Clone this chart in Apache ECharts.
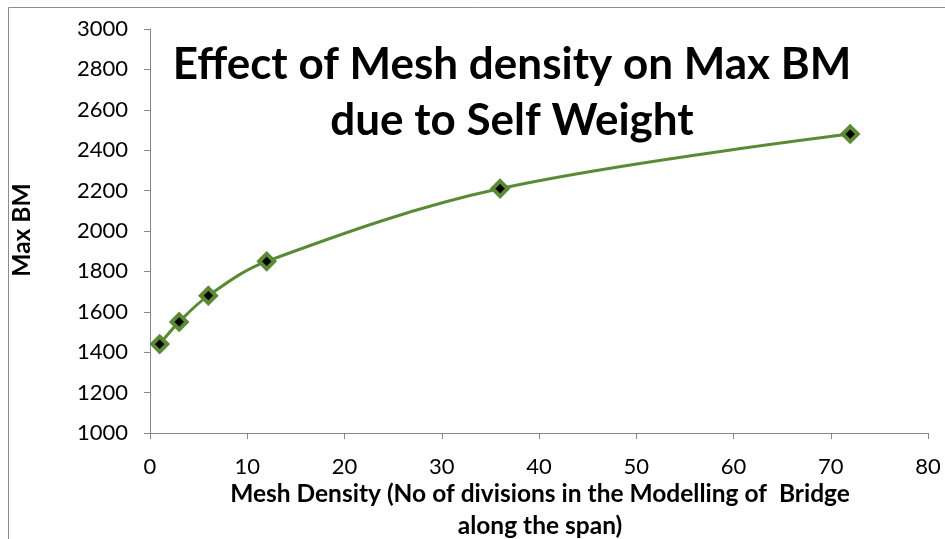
<!DOCTYPE html>
<html>
<head>
<meta charset="utf-8">
<script src="https://cdn.jsdelivr.net/npm/echarts@6/dist/echarts.min.js"></script>
<style>
  html, body { margin: 0; padding: 0; background: #fff; }
  #chart { width: 945px; height: 539px; }
</style>
</head>
<body>
<div id="chart"></div>
<script>
// mesh density (divisions) vs max bending moment
const divisions = [1, 3, 6, 12, 36, 72];
const maxBM = [1440, 1550, 1680, 1850, 2210, 2480];

const chart = echarts.init(document.getElementById('chart'));
const font = 'Lato';
const axisGray = '#868686';
const green = '#5a8a35';

const option = {
  animation: false,
  textStyle: { fontFamily: font },
  grid: { left: 150, right: 17, top: 29, bottom: 106 },
  graphic: [
    {
      type: 'rect',
      shape: { x: 8.5, y: 7.5, width: 960, height: 560 },
      style: { fill: 'none', stroke: '#8c8c8c', lineWidth: 1 }
    },
    {
      type: 'text',
      x: 512, y: 37,
      style: {
        text: 'Effect of Mesh density on Max BM\ndue to Self Weight',
        fontFamily: font, fontWeight: 'bold', fontSize: 44,
        fill: '#000',
        align: 'center',
        verticalAlign: 'top',
        lineHeight: 56
      }
    },
    {
      type: 'text',
      x: 540, y: 478,
      style: {
        text: 'Mesh Density (No of divisions in the Modelling of  Bridge\nalong the span)',
        fontFamily: font, fontWeight: 'bold', fontSize: 24.5,
        fill: '#000',
        align: 'center',
        verticalAlign: 'top',
        lineHeight: 32
      }
    },
    {
      type: 'text',
      rotation: Math.PI / 2,
      x: 22, y: 230,
      style: {
        text: 'Max BM',
        fontFamily: font, fontWeight: 'bold', fontSize: 24.5,
        fill: '#000',
        align: 'center',
        verticalAlign: 'middle'
      }
    }
  ],
  xAxis: {
    type: 'value',
    min: 0, max: 80, interval: 10,
    axisLine: { lineStyle: { color: axisGray, width: 1 } },
    axisTick: { show: true, length: 6, lineStyle: { color: axisGray } },
    axisLabel: { color: '#000', fontSize: 22, margin: 23, fontFamily: font },
    splitLine: { show: false }
  },
  yAxis: {
    type: 'value',
    min: 1000, max: 3000, interval: 200,
    axisLine: { show: true, lineStyle: { color: axisGray, width: 1 } },
    axisTick: { show: true, length: 6, lineStyle: { color: axisGray } },
    axisLabel: { color: '#000', fontSize: 22, margin: 22, fontFamily: font, formatter: v => String(v) },
    splitLine: { show: false }
  },
  series: [{
    type: 'line',
    data: divisions.map((d, i) => [d, maxBM[i]]),
    smooth: 0.35,
    lineStyle: { color: green, width: 3 },
    symbol: 'diamond',
    symbolSize: 15,
    itemStyle: { color: '#000', borderColor: green, borderWidth: 4 }
  }]
};

chart.setOption(option);
</script>
</body>
</html>
